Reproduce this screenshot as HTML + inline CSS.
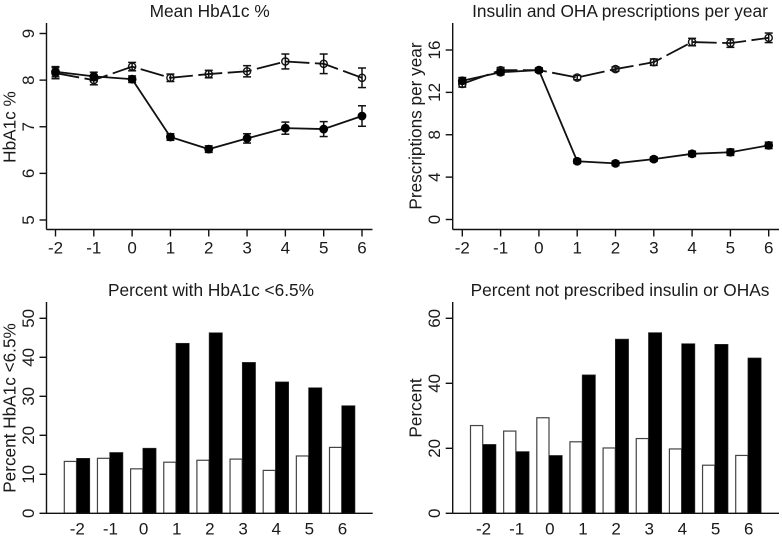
<!DOCTYPE html>
<html lang="en">
<head>
<meta charset="utf-8">
<title>HbA1c and prescriptions panels</title>
<style>
html,body{margin:0;padding:0;background:#fff;width:782px;height:537px;overflow:hidden}
svg{display:block}
text{font-family:"Liberation Sans",Arial,sans-serif;fill:#1a1a1a}
.title{font-size:17.3px}
.tick{font-size:17px}
.ylab{font-size:17.2px}
</style>
</head>
<body>
<svg id="chart" xmlns="http://www.w3.org/2000/svg" width="782" height="537" viewBox="0 0 782 537"></svg>
<script>
const timeCategories = ["-2", "-1", "0", "1", "2", "3", "4", "5", "6"];
const xTickValues = [-2, -1, 0, 1, 2, 3, 4, 5, 6];

const hba1cYTicks = [5, 6, 7, 8, 9];
const hba1cFilled = [8.18, 8.08, 8.02, 6.78, 6.52, 6.75, 6.97, 6.95, 7.23];
const hba1cFilledErr = [0.11, 0.09, 0.07, 0.07, 0.07, 0.1, 0.13, 0.16, 0.22];
const hba1cOpen = [8.15, 8.0, 8.29, 8.05, 8.13, 8.19, 8.4, 8.35, 8.05];
const hba1cOpenErr = [0.12, 0.1, 0.09, 0.08, 0.08, 0.12, 0.16, 0.21, 0.21];

const rxYTicks = [0, 4, 8, 12, 16];
const rxFilled = [13.1, 13.9, 14.1, 5.5, 5.3, 5.7, 6.2, 6.35, 7.0];
const rxFilledErr = [0.3, 0.25, 0.2, 0.2, 0.2, 0.2, 0.25, 0.3, 0.3];
const rxOpen = [12.8, 14.1, 14.1, 13.4, 14.2, 14.85, 16.75, 16.65, 17.15];
const rxOpenErr = [0.3, 0.25, 0.2, 0.2, 0.2, 0.3, 0.35, 0.4, 0.45];

const lowA1cYTicks = [0, 10, 20, 30, 40, 50];
const lowA1cWhite = [13.3, 14.1, 11.4, 13.1, 13.6, 13.9, 11.0, 14.7, 16.9];
const lowA1cBlack = [14.1, 15.6, 16.7, 43.6, 46.3, 38.7, 33.7, 32.2, 27.6];

const noRxYTicks = [0, 20, 40, 60];
const noRxWhite = [27.0, 25.3, 29.4, 22.0, 20.1, 23.0, 19.8, 14.8, 17.8];
const noRxBlack = [21.2, 19.0, 17.8, 42.6, 53.6, 55.6, 52.2, 52.0, 47.8];

const NS = "http://www.w3.org/2000/svg";
const svg = document.getElementById("chart");
const INK = "#111";

function make(parent, tag, attrs) {
  const el = document.createElementNS(NS, tag);
  for (const k in attrs) el.setAttribute(k, attrs[k]);
  parent.appendChild(el);
  return el;
}
function line(parent, x1, y1, x2, y2, w) {
  return make(parent, "line", { x1, y1, x2, y2, stroke: INK, "stroke-width": w || 1.4 });
}
function label(parent, str, x, y, cls, rotate) {
  const t = make(parent, "text", { x, y, class: cls, "text-anchor": "middle" });
  if (rotate) t.setAttribute("transform", "rotate(-90 " + x + " " + y + ")");
  t.textContent = str;
  return t;
}
function linear(d0, d1, r0, r1) {
  return v => r0 + (v - d0) * (r1 - r0) / (d1 - d0);
}

function drawFrame(g, cfg) {
  const t = label(g, cfg.title, cfg.titleX, cfg.titleY, "title");
  
  

  const yl = label(g, cfg.yTitle, cfg.yTitleX, cfg.yTitleY, "ylab", true);
  
  

  const ya = make(g, "g", {});
  
  
  line(ya, cfg.axisX, cfg.axisTop, cfg.axisX, cfg.axisY);
  cfg.yTicks.forEach(v => {
    const y = cfg.yScale(v);
    line(ya, cfg.axisX - 7, y, cfg.axisX, y);
    const tl = label(ya, String(v), cfg.yLabelX, y, "tick", true);
    
    
  });

  const xa = make(g, "g", {});
  
  
  line(xa, cfg.axisX, cfg.axisY, cfg.axisRight, cfg.axisY);
}

function drawLinePanel(cfg) {
  const g = make(svg, "g", {});
  
  
  drawFrame(g, cfg);

  const x = cfg.xScale, y = cfg.yScale;
  const xa = make(g, "g", {});
  
  
  xTickValues.forEach((v, i) => {
    line(xa, x(v), cfg.axisY, x(v), cfg.axisY + 7);
    const tl = label(xa, timeCategories[i], x(v), cfg.axisY + 24, "tick");
    
    
  });

  const openG = make(g, "g", {});
  
  
  const openPts = cfg.open.map((v, i) => x(xTickValues[i]) + "," + y(v)).join(" ");
  make(openG, "polyline", { points: openPts, fill: "none", stroke: INK, "stroke-width": 1.8, "stroke-dasharray": "24 5.5", "stroke-dashoffset": cfg.dashOffset });
  cfg.open.forEach((v, i) => {
    const cx = x(xTickValues[i]);
    line(openG, cx, y(v - cfg.openErr[i]), cx, y(v + cfg.openErr[i]), 1.5);
    line(openG, cx - 4, y(v - cfg.openErr[i]), cx + 4, y(v - cfg.openErr[i]), 1.5);
    line(openG, cx - 4, y(v + cfg.openErr[i]), cx + 4, y(v + cfg.openErr[i]), 1.5);
    const c = make(openG, "circle", { cx, cy: y(v), r: 3.6, fill: "none", stroke: INK, "stroke-width": 1.4 });
    
    
  });

  const fillG = make(g, "g", {});
  
  
  const fillPts = cfg.filled.map((v, i) => x(xTickValues[i]) + "," + y(v)).join(" ");
  make(fillG, "polyline", { points: fillPts, fill: "none", stroke: INK, "stroke-width": 1.8 });
  cfg.filled.forEach((v, i) => {
    const cx = x(xTickValues[i]);
    line(fillG, cx, y(v - cfg.filledErr[i]), cx, y(v + cfg.filledErr[i]), 1.5);
    line(fillG, cx - 4, y(v - cfg.filledErr[i]), cx + 4, y(v - cfg.filledErr[i]), 1.5);
    line(fillG, cx - 4, y(v + cfg.filledErr[i]), cx + 4, y(v + cfg.filledErr[i]), 1.5);
    const c = make(fillG, "circle", { cx, cy: y(v), r: 4.4, fill: "#000" });
    
    
  });
}

function drawBarPanel(cfg) {
  const g = make(svg, "g", {});
  
  

  const y = cfg.yScale, base = cfg.axisY;
  const period = cfg.period;
  timeCategories.forEach((cat, i) => {
    const mid = cfg.firstMid + i * period;
    const wy = y(cfg.white[i]), by = y(cfg.black[i]);
    const w = make(g, "rect", { x: mid - 12.2, y: wy, width: 12.2, height: base - wy, fill: "#fff", stroke: "#444", "stroke-width": 1.2 });
    
    
    const b = make(g, "rect", { x: mid, y: by, width: 13.3, height: base - by, fill: "#000", stroke: "#333", "stroke-width": 0.6 });
    
    
    const tl = label(g, cat, mid + 0.8, cfg.xLabelY, "tick");
    
    
  });
  drawFrame(g, cfg);
}

drawLinePanel({
  name: "panel-mean-hba1c",
  title: "Mean HbA1c %", titleX: 209.7, titleY: 17,
  yTitle: "HbA1c %", yTitleX: 15.5, yTitleY: 127,
  yLabelX: 34, axisX: 46.5, axisTop: 23, axisY: 229.5, axisRight: 372.5,
  yTicks: hba1cYTicks,
  yScale: linear(5, 9, 220, 33.5),
  xScale: linear(-2, 6, 55.5, 362),
  filled: hba1cFilled, filledErr: hba1cFilledErr,
  open: hba1cOpen, openErr: hba1cOpenErr,
  dashOffset: 0
});

drawLinePanel({
  name: "panel-prescriptions",
  title: "Insulin and OHA prescriptions per year", titleX: 620, titleY: 17,
  yTitle: "Prescriptions per year", yTitleX: 421.5, yTitleY: 126,
  yLabelX: 440, axisX: 452.7, axisTop: 23, axisY: 229.5, axisRight: 779,
  yTicks: rxYTicks,
  yScale: linear(0, 16, 219.5, 50),
  xScale: linear(-2, 6, 462.3, 768.7),
  filled: rxFilled, filledErr: rxFilledErr,
  open: rxOpen, openErr: rxOpenErr,
  dashOffset: -4
});

drawBarPanel({
  name: "panel-percent-low-hba1c",
  title: "Percent with HbA1c <6.5%", titleX: 211, titleY: 296,
  yTitle: "Percent HbA1c <6.5%", yTitleX: 15.5, yTitleY: 408,
  yLabelX: 34, axisX: 46.5, axisTop: 302, axisY: 513.3, axisRight: 372.7,
  yTicks: lowA1cYTicks,
  yScale: linear(0, 50, 513.3, 318.3),
  firstMid: 76.5, period: 33.15, xLabelY: 534.5,
  white: lowA1cWhite, black: lowA1cBlack
});

drawBarPanel({
  name: "panel-percent-not-prescribed",
  title: "Percent not prescribed insulin or OHAs", titleX: 620, titleY: 296,
  yTitle: "Percent", yTitleX: 421.5, yTitleY: 408,
  yLabelX: 440, axisX: 452.7, axisTop: 302, axisY: 513.3, axisRight: 779,
  yTicks: noRxYTicks,
  yScale: linear(0, 60, 513.3, 318.3),
  firstMid: 482.7, period: 33.15, xLabelY: 534.5,
  white: noRxWhite, black: noRxBlack
});
</script>
</body>
</html>
